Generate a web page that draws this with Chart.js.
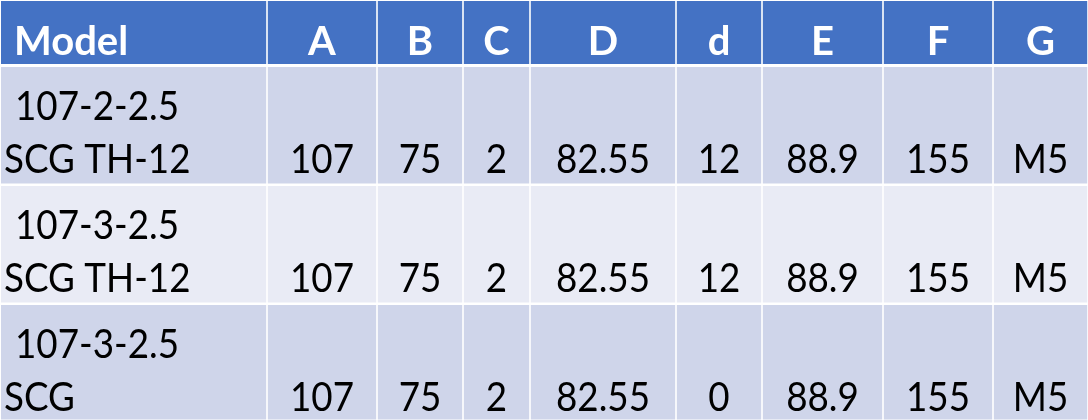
<!DOCTYPE html>
<html>
<head>
<meta charset="utf-8">
<script src="https://cdn.jsdelivr.net/npm/chart.js@4.4.1/dist/chart.umd.min.js"></script>
<style>
  html, body { margin: 0; padding: 0; background: #ffffff; }
  #wrap { width: 1088px; height: 420px; }
</style>
</head>
<body>
<div id="wrap"><canvas id="tbl"></canvas></div>
<script>
// table content
const columns = ['Model', 'A', 'B', 'C', 'D', 'd', 'E', 'F', 'G'];
const models = [['107-2-2.5', 'SCG TH-12'], ['107-3-2.5', 'SCG TH-12'], ['107-3-2.5', 'SCG']];
const valA = [107, 107, 107];
const valB = [75, 75, 75];
const valC = [2, 2, 2];
const valD = [82.55, 82.55, 82.55];
const vald = [12, 12, 0];
const valE = [88.9, 88.9, 88.9];
const valF = [155, 155, 155];
const valG = ['M5', 'M5', 'M5'];

// layout (in scale units, same as px here)
const colEdges = [0, 267, 377, 463, 530, 676, 762, 883, 993, 1088];
const rowEdges = [0, 65, 184, 303, 420];
const headerColor = '#4472C4';
const bandColors = ['#CFD5EA', '#E9EBF5', '#CFD5EA'];
const fontFamily = 'Lato, "Open Sans", sans-serif';
const squeeze = 0.92; // body font is a little narrower than Lato

const valueCols = [valA, valB, valC, valD, vald, valE, valF, valG];

function drawText(ctx, text, x, y, align) {
    ctx.save();
    ctx.translate(x, y);
    ctx.scale(squeeze, 1);
    ctx.textAlign = align;
    ctx.fillText(text, 0, 0);
    ctx.restore();
}

const tablePlugin = {
    id: 'tablePlugin',
    afterDraw(chart) {
        const ctx = chart.ctx;
        const xs = chart.scales.x;
        const ys = chart.scales.y;
        const px = v => xs.getPixelForValue(v);
        const py = v => ys.getPixelForValue(v);
        ctx.save();
        // cells
        for (let r = 0; r < rowEdges.length - 1; r++) {
            let top = rowEdges[r] + (r === 0 ? 1 : 2);
            let bottom = rowEdges[r + 1] - (r === 0 ? 1 : 0.5);
            for (let c = 0; c < colEdges.length - 1; c++) {
                let left = colEdges[c] + (c === 0 ? 1 : 0.8);
                let right = colEdges[c + 1] - 0.8;
                ctx.fillStyle = r === 0 ? headerColor : bandColors[r - 1];
                ctx.fillRect(px(left), py(top), px(right) - px(left), py(bottom) - py(top));
            }
        }
        // header text
        ctx.fillStyle = '#ffffff';
        ctx.font = 'bold 40px ' + fontFamily;
        ctx.textBaseline = 'alphabetic';
        columns.forEach((name, c) => {
            if (c === 0) {
                ctx.textAlign = 'left';
                ctx.fillText(name, px(colEdges[0] + 14), py(55));
            } else {
                ctx.textAlign = 'center';
                ctx.fillText(name, px((colEdges[c] + colEdges[c + 1]) / 2), py(55));
            }
        });
        // body text
        ctx.fillStyle = '#000000';
        ctx.font = '40px ' + fontFamily;
        for (let r = 0; r < models.length; r++) {
            let top = rowEdges[r + 1] + 2;
            drawText(ctx, models[r][0], px(15), py(top + 53), 'left');
            drawText(ctx, models[r][1], px(4), py(top + 106), 'left');
            valueCols.forEach((col, i) => {
                let c = i + 1;
                drawText(ctx, String(col[r]), px((colEdges[c] + colEdges[c + 1]) / 2), py(top + 106), 'center');
            });
        }
        ctx.restore();
    }
};

var chart = new Chart(document.getElementById('tbl'), {
    type: 'scatter',
    data: { datasets: [{ data: [] }] },
    options: {
        responsive: true,
        maintainAspectRatio: false,
        animation: false,
        layout: { padding: 0 },
        scales: {
            x: { type: 'linear', min: 0, max: 1088, display: false },
            y: { type: 'linear', min: 0, max: 420, reverse: true, display: false }
        },
        plugins: { legend: { display: false }, tooltip: { enabled: false } }
    },
    plugins: [tablePlugin]
});
</script>
</body>
</html>
